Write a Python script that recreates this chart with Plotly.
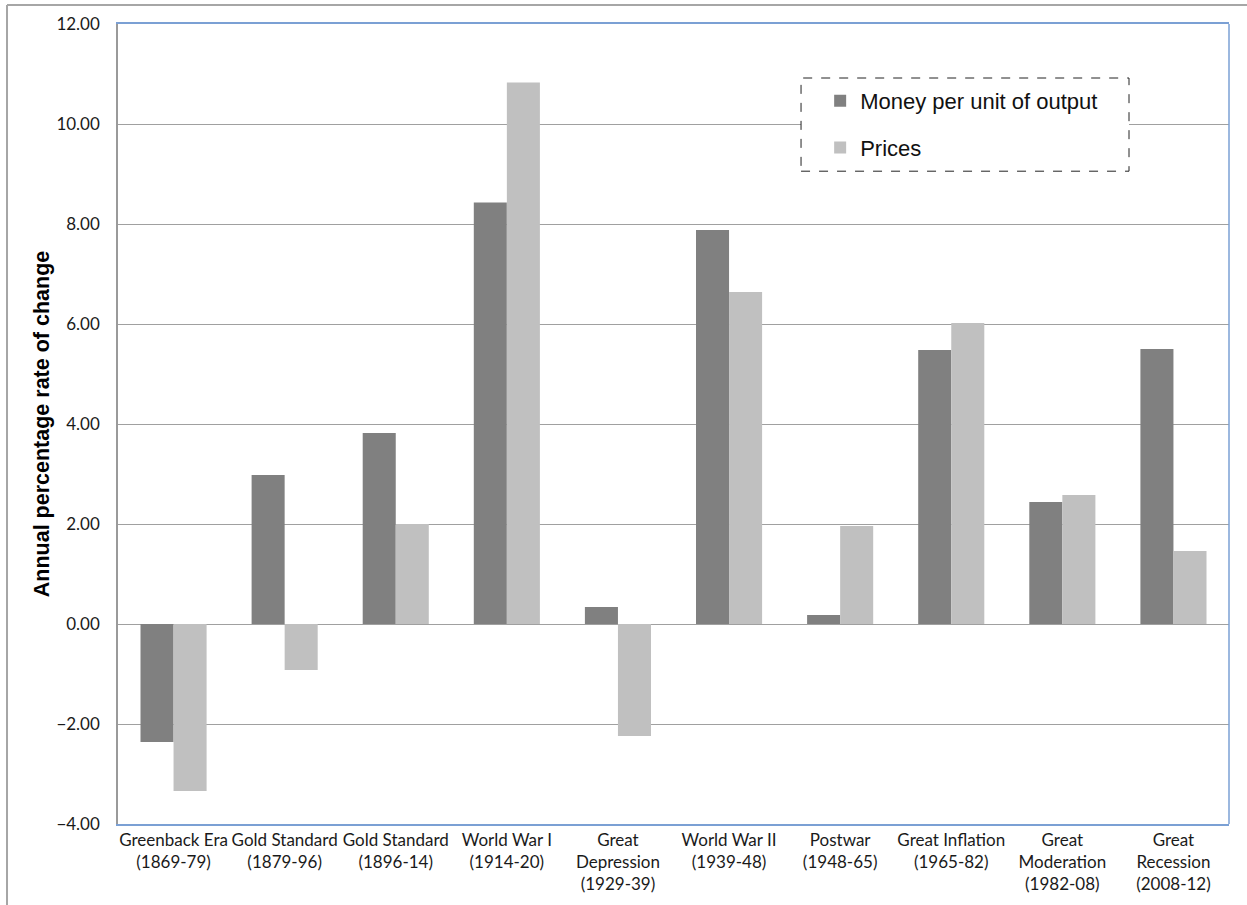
import plotly.graph_objects as go

categories = [
    "Greenback Era<br>(1869-79)",
    "Gold Standard<br>(1879-96)",
    "Gold Standard<br>(1896-14)",
    "World War I<br>(1914-20)",
    "Great<br>Depression<br>(1929-39)",
    "World War II<br>(1939-48)",
    "Postwar<br>(1948-65)",
    "Great Inflation<br>(1965-82)",
    "Great<br>Moderation<br>(1982-08)",
    "Great<br>Recession<br>(2008-12)",
]
money = [-2.36, 2.98, 3.82, 8.43, 0.34, 7.88, 0.18, 5.48, 2.44, 5.50]
prices = [-3.34, -0.92, 2.00, 10.83, -2.24, 6.64, 1.96, 6.02, 2.58, 1.46]
y_ticks = [-4, -2, 0, 2, 4, 6, 8, 10, 12]

fig = go.Figure()
fig.add_trace(go.Bar(x=categories, y=money, name="Money per unit of output",
                     marker=dict(color="#808080", line=dict(width=0)),
                     legendgroup="a"))
fig.add_trace(go.Bar(x=categories, y=prices, name="Prices",
                     marker=dict(color="#c0c0c0", line=dict(width=0)),
                     legendgroup="b"))

blue = "#7ba0d4"
grid = "#a0a0a0"

fig.update_layout(
    width=1247, height=905,
    margin=dict(l=118, r=18, t=24, b=81),
    paper_bgcolor="white", plot_bgcolor="white",
    barmode="group", bargap=0.405, bargroupgap=0,
    font=dict(family="Lato", size=17, color="#1a1a1a"),
    showlegend=True,
    legend=dict(x=0.632, y=0.93, xanchor="left", yanchor="top",
                bgcolor="rgba(0,0,0,0)", borderwidth=0,
                font=dict(family="Liberation Sans", size=22, color="#111111"),
                traceorder="grouped", tracegroupgap=15,
                itemwidth=30),
    xaxis=dict(showline=True, linecolor=blue, linewidth=1.5, mirror=True,
               showgrid=False, ticks="", tickfont=dict(family="Lato", size=17)),
    yaxis=dict(range=[-4, 12], tickvals=y_ticks, tickformat=".2f",
               showgrid=True, gridcolor=grid, gridwidth=1,
               zeroline=True, zerolinecolor=grid, zerolinewidth=1,
               showline=True, linecolor="#9a9a9a", linewidth=1.5,
               ticks="", ticklabelstandoff=13,
               tickfont=dict(family="Lato", size=17),
               title=dict(text="Annual percentage rate of change",
                          font=dict(family="Liberation Sans", size=21.5, color="#000000"),
                          standoff=1)),
    shapes=[
        # legend dashed box
        dict(type="rect", xref="paper", yref="paper", x0=0.6148, x1=0.91,
             y0=0.816, y1=0.9325, line=dict(color="#222222", width=1, dash="dash"),
             fillcolor="white", layer="above"),
        # right plot border
        dict(type="line", xref="paper", yref="paper", x0=1, x1=1, y0=0, y1=1,
             line=dict(color=blue, width=1.5), layer="above"),
        # outer chart border (top and left)
        dict(type="line", xref="paper", yref="paper", x0=-0.0999, x1=1.1,
             y0=1.02375, y1=1.02375, line=dict(color="#a6a6a6", width=2)),
        dict(type="line", xref="paper", yref="paper", x0=-0.0999, x1=-0.0999,
             y0=-0.2, y1=1.02375, line=dict(color="#a6a6a6", width=2)),
    ],
)
fig.update_yaxes(title_font_weight="bold")

fig.write_html("out.html", config={"displayModeBar": False},
               post_script="document.body.style.margin='0';document.body.style.overflow='hidden';")
